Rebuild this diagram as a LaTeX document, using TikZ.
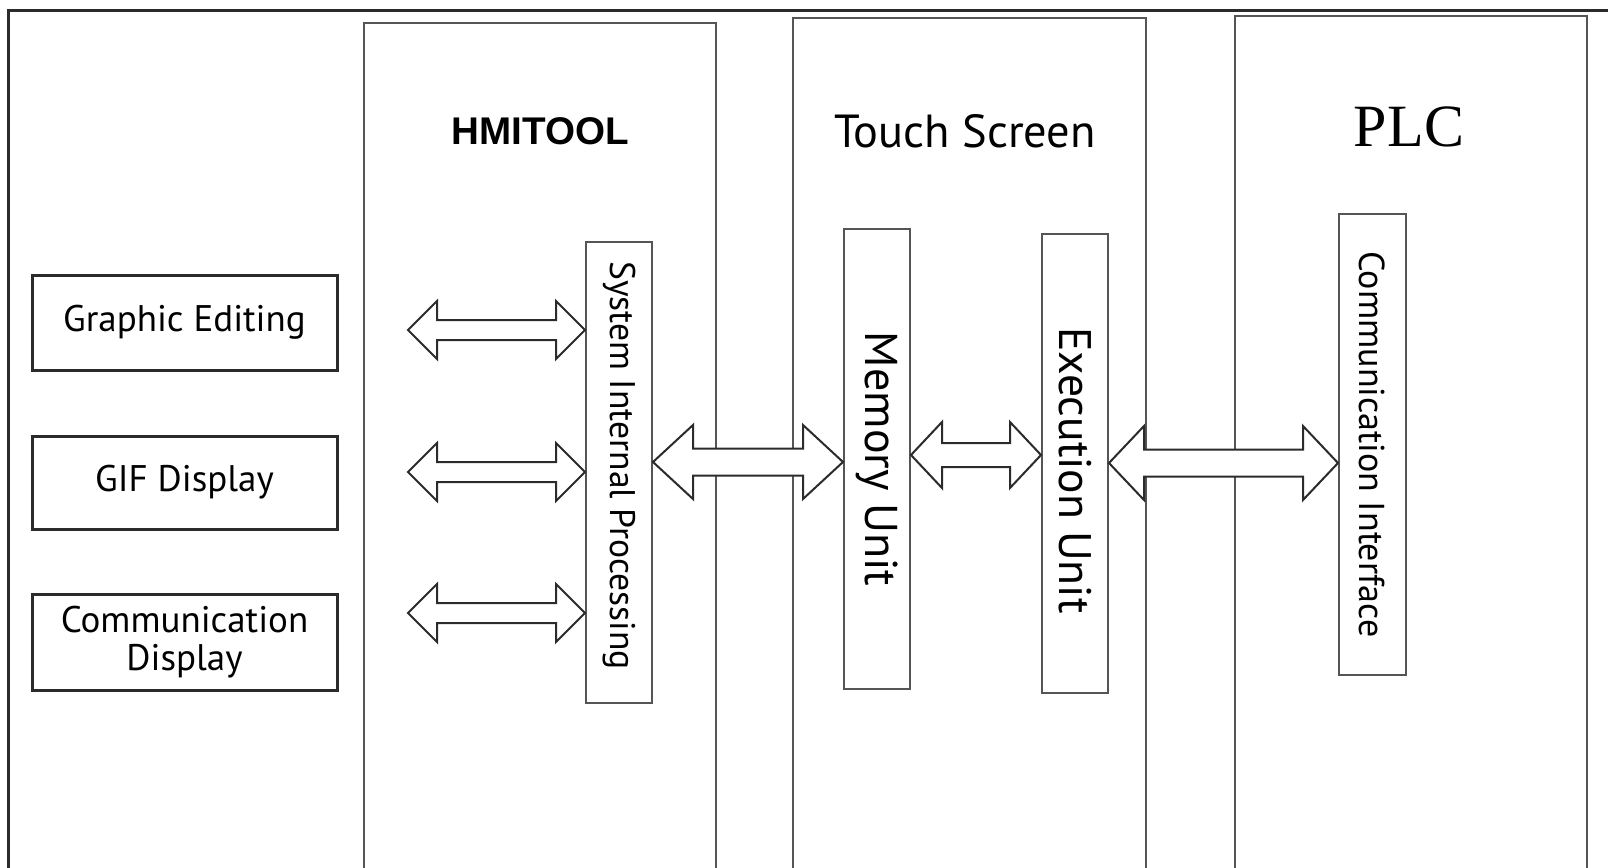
\documentclass[tikz,border=0pt]{standalone}
\usepackage{fontspec}
\newfontfamily\labelfont{PT Sans}
\newfontfamily\boldfont{Liberation Sans}
\newfontfamily\seriffont{Liberation Serif}
\usepackage{xcolor}
\definecolor{cLine}{HTML}{2B2B2B}
\definecolor{cGray}{HTML}{555555}
\usepackage{tikz}
\usetikzlibrary{positioning,calc}
% sizes below are in pixels of the 1608x868 frame (1px = 0.5pt)
\tikzset{
  node-col/.style={draw=cGray,line width=1pt,minimum width=#1*0.5pt,inner sep=0pt},
  node-box/.style={draw=cLine,line width=1.5pt,minimum width=305*0.5pt,inner sep=0pt,
    align=center,font=\labelfont\fontsize{18.5}{19}\selectfont},
  node-bar/.style={draw=cGray,line width=1pt,minimum width=66*0.5pt,inner sep=0pt},
  node-vtext/.style={rotate=-90,inner sep=0pt},
  node-title/.style={inner sep=0pt},
  fat-arrow/.style={draw=cLine,line width=1pt,fill=white,line join=miter},
}
% hollow double-headed arrow: ends, shaft half, head half, head length
\newcommand{\fatarrow}[5]{%
  \draw[fat-arrow] (#1) -- ($(#1)+(#5,-#4)$) -- ($(#1)+(#5,-#3)$)
    -- ($(#2)+(-#5,-#3)$) -- ($(#2)+(-#5,-#4)$) -- (#2)
    -- ($(#2)+(-#5,#4)$) -- ($(#2)+(-#5,#3)$) -- ($(#1)+(#5,#3)$)
    -- ($(#1)+(#5,#4)$) -- cycle;}
\begin{document}
\begin{tikzpicture}[x=0.5pt,y=-0.5pt]
  \useasboundingbox[fill=white] (0,0) rectangle (1608,868);
  \draw[cLine,line width=1.5pt] (8,10) rectangle (1630,890);

  % three columns
  \node[node-col=352,minimum height=864*0.5pt] (hmi) at (540,455) {};
  \node[node-col=353,minimum height=868*0.5pt] (touch) at (969.5,452) {};
  \node[node-col=352,minimum height=870*0.5pt] (plc) at (1411,451) {};
  \node[node-title,font=\boldfont\bfseries\fontsize{19.3}{22}\selectfont] (hmi-t) at (540,131) {HMITOOL};
  \node[node-title,font=\labelfont\fontsize{23.2}{27}\selectfont] (touch-t) at (965,131) {Touch Screen};
  \node[node-title,font=\seriffont\fontsize{30}{34}\selectfont] (plc-t) at (1409,127) {PLC};

  % editor functions
  \node[node-box,minimum height=95*0.5pt] (graph) at (184.5,322.5) {Graphic Editing};
  \node[node-box,minimum height=93*0.5pt] (gif) at (184.5,482.5) {GIF Display};
  \node[node-box,minimum height=96*0.5pt] (comm) at (184.5,642) {Communication\\Display};

  % processing units
  \node[node-bar,minimum height=461*0.5pt] (sip) at (619,472.5) {};
  \node[node-vtext,font=\labelfont\fontsize{17.8}{21}\selectfont] at ($(sip)+(0,-7)$) {System Internal Processing};
  \node[node-bar,minimum height=460*0.5pt] (mem) at (877,459) {};
  \node[node-vtext,font=\labelfont\fontsize{23}{27}\selectfont] at (mem) {Memory Unit};
  \node[node-bar,minimum height=459*0.5pt] (exe) at (1075,463.5) {};
  \node[node-vtext,font=\labelfont\fontsize{22.8}{27}\selectfont] at ($(exe)+(0,7)$) {Execution Unit};
  \node[node-bar,minimum width=67*0.5pt,minimum height=461*0.5pt] (cif) at (1372.5,444.5) {};
  \node[node-vtext,font=\labelfont\fontsize{18}{21}\selectfont] at (cif) {Communication Interface};

  % arrow ends
  \coordinate (a1l) at (408,330);
  \coordinate (a2l) at (408,472);
  \coordinate (a3l) at (408,613);
  \coordinate (a1r) at (sip.west |- a1l);
  \coordinate (a2r) at (sip.west |- a2l);
  \coordinate (a3r) at (sip.west |- a3l);
  \coordinate (b1l) at (sip.east |- 0,462);
  \coordinate (b1r) at (mem.west |- 0,462);
  \coordinate (b2l) at (mem.east |- 0,455);
  \coordinate (b2r) at (exe.west |- 0,455);
  \coordinate (b3l) at (exe.east |- 0,463);
  \coordinate (b3r) at (cif.west |- 0,463);

  \fatarrow{a1l}{a1r}{10}{29}{29}
  \fatarrow{a2l}{a2r}{10}{29}{29}
  \fatarrow{a3l}{a3r}{10}{29}{29}
  \fatarrow{b1l}{b1r}{13.5}{37}{40}
  \fatarrow{b2l}{b2r}{12}{33}{31}
  \fatarrow{b3l}{b3r}{13.5}{37}{35}
\end{tikzpicture}
\end{document}
